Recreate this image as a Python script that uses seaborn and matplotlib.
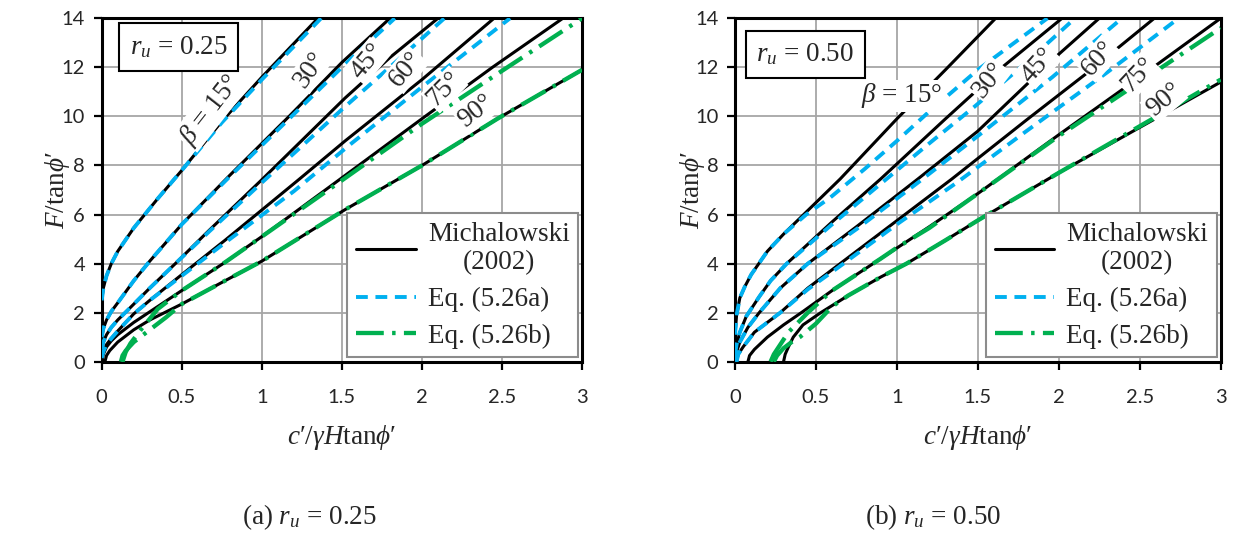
import numpy as np
import pandas as pd
import matplotlib
matplotlib.use("Agg")
import matplotlib.pyplot as plt
from matplotlib.lines import Line2D
import seaborn as sns

# ---------------------------------------------------------------------------
# Stability chart data: F/tan(phi') against c'/(gamma H tan(phi'))
# one curve per slope angle beta (degrees)
# ---------------------------------------------------------------------------
ANGLES = [15, 30, 45, 60, 75, 90]
X_TICKS = [0, 0.5, 1, 1.5, 2, 2.5, 3]
X_TICK_LABELS = ["0", "0.5", "1", "1.5", "2", "2.5", "3"]
Y_TICKS = [0, 2, 4, 6, 8, 10, 12, 14]

# r_u = 0.25 : Michalowski (2002)
mich_025 = {
    15: ([0, 0.01, 0.03, 0.06, 0.1, 0.2, 0.35, 0.5, 0.75, 1.0, 1.35],
         [2.5, 3.0, 3.5, 4.0, 4.5, 5.45, 6.65, 7.8, 9.8, 11.6, 14.0]),
    30: ([0, 0.01, 0.03, 0.06, 0.1, 0.2, 0.3, 0.5, 0.8, 1.17, 1.5, 1.8],
         [1.0, 1.35, 1.7, 2.05, 2.4, 3.3, 4.1, 5.6, 7.6, 10.0, 12.2, 14.0]),
    45: ([0, 0.01, 0.03, 0.06, 0.1, 0.17, 0.3, 0.46, 0.67, 1.0, 1.52, 1.8, 2.1],
         [0.5, 0.8, 1.1, 1.4, 1.7, 2.15, 3.0, 4.0, 5.35, 7.42, 10.75, 12.4, 14.0]),
    60: ([0, 0.01, 0.03, 0.06, 0.1, 0.2, 0.3, 0.5, 0.77, 1.23, 1.52, 2.0, 2.45],
         [0.15, 0.4, 0.7, 0.95, 1.25, 1.95, 2.5, 3.55, 4.95, 7.42, 9.0, 11.5, 14.0]),
    75: ([0, 0.01, 0.03, 0.06, 0.1, 0.2, 0.35, 0.5, 0.77, 1.0, 1.48, 2.02, 2.44, 2.88],
         [0, 0.3, 0.6, 0.85, 1.1, 1.6, 2.25, 2.9, 4.05, 5.1, 7.4, 10.0, 12.0, 14.0]),
    90: ([0.02, 0.03, 0.05, 0.1, 0.2, 0.3, 0.5, 0.77, 1.0, 1.52, 2.0, 2.47, 3.0],
         [0, 0.25, 0.45, 0.8, 1.3, 1.7, 2.35, 3.3, 4.1, 6.2, 8.0, 9.9, 11.9]),
}
# r_u = 0.25 : Eq. (5.26a)
eqa_025 = {
    15: ([0, 0.01, 0.03, 0.06, 0.1, 0.2, 0.35, 0.5, 0.75, 1.0, 1.37],
         [2.5, 3.0, 3.5, 4.0, 4.5, 5.45, 6.65, 7.8, 9.75, 11.5, 14.0]),
    30: ([0, 0.01, 0.03, 0.06, 0.1, 0.2, 0.3, 0.5, 0.8, 1.17, 1.5, 1.83],
         [1.0, 1.35, 1.7, 2.05, 2.4, 3.3, 4.1, 5.6, 7.55, 9.9, 12.0, 14.0]),
    45: ([0, 0.01, 0.03, 0.06, 0.1, 0.17, 0.3, 0.46, 0.67, 1.0, 1.52, 1.85, 2.14],
         [0.5, 0.8, 1.1, 1.4, 1.7, 2.15, 3.0, 4.0, 5.3, 7.3, 10.4, 12.3, 14.0]),
    60: ([0, 0.01, 0.03, 0.06, 0.1, 0.2, 0.3, 0.5, 0.77, 1.2, 1.56, 2.0, 2.55],
         [0.15, 0.4, 0.7, 0.95, 1.25, 1.95, 2.5, 3.5, 4.85, 6.95, 8.9, 11.2, 14.0]),
}
# r_u = 0.25 : Eq. (5.26b)
eqb_025 = {
    75: ([0.13, 0.15, 0.18, 0.25, 0.35, 0.5, 0.77, 1.0, 1.48, 2.0, 2.44, 3.0],
         [0, 0.4, 0.75, 1.35, 2.15, 2.9, 4.05, 5.1, 7.3, 9.7, 11.6, 14.0]),
    90: ([0.12, 0.13, 0.15, 0.2, 0.3, 0.4, 0.5, 0.77, 1.0, 1.52, 2.0, 2.47, 3.0],
         [0, 0.25, 0.45, 0.8, 1.3, 1.8, 2.35, 3.3, 4.1, 6.2, 8.0, 9.9, 11.9]),
}

# r_u = 0.50 : Michalowski (2002)
mich_050 = {
    15: ([0, 0.01, 0.03, 0.06, 0.1, 0.2, 0.3, 0.44, 0.65, 1.0, 1.3, 1.61],
         [1.1, 1.9, 2.6, 3.05, 3.55, 4.5, 5.2, 6.1, 7.45, 9.9, 11.9, 14.0]),
    30: ([0, 0.01, 0.03, 0.07, 0.15, 0.22, 0.32, 0.6, 0.9, 1.3, 1.65, 2.02],
         [0.3, 0.7, 1.2, 1.85, 2.65, 3.3, 4.0, 5.7, 7.45, 9.9, 12.0, 14.0]),
    45: ([0, 0.01, 0.03, 0.08, 0.15, 0.28, 0.45, 0.75, 1.13, 1.5, 1.96, 2.25],
         [0, 0.4, 0.8, 1.4, 2.0, 3.0, 4.0, 5.5, 7.45, 9.4, 12.3, 14.0]),
    60: ([0.01, 0.02, 0.05, 0.12, 0.28, 0.45, 0.65, 1.0, 1.34, 1.8, 2.2, 2.59],
         [0, 0.3, 0.6, 1.2, 2.0, 3.0, 4.0, 5.75, 7.45, 9.85, 11.9, 14.0]),
    75: ([0.08, 0.09, 0.12, 0.2, 0.3, 0.41, 0.6, 0.9, 1.2, 1.51, 2.0, 2.5, 3.0],
         [0, 0.25, 0.5, 1.0, 1.5, 2.0, 2.9, 4.2, 5.5, 6.9, 9.25, 11.6, 14.0]),
    90: ([0.3, 0.31, 0.33, 0.36, 0.42, 0.53, 0.7, 0.9, 1.06, 1.3, 1.51, 2.0, 2.5, 3.0],
         [0, 0.3, 0.6, 1.0, 1.5, 2.0, 2.7, 3.45, 4.0, 4.95, 5.8, 7.7, 9.55, 11.4]),
}
# r_u = 0.50 : Eq. (5.26a)
eqa_050 = {
    15: ([0, 0.01, 0.03, 0.06, 0.1, 0.2, 0.3, 0.44, 0.59, 0.8, 1.0, 1.2, 1.5, 1.93],
         [1.1, 1.9, 2.6, 3.05, 3.55, 4.5, 5.2, 6.0, 6.7, 7.85, 9.0, 10.2, 11.9, 14.0]),
    30: ([0, 0.01, 0.03, 0.07, 0.15, 0.22, 0.32, 0.6, 0.9, 1.2, 1.48, 1.8, 2.1],
         [0.3, 0.7, 1.2, 1.85, 2.65, 3.3, 4.0, 5.6, 7.25, 8.9, 10.4, 12.2, 14.0]),
    45: ([0, 0.01, 0.03, 0.08, 0.15, 0.28, 0.45, 0.75, 1.13, 1.5, 1.96, 2.39],
         [0, 0.4, 0.8, 1.4, 2.0, 3.0, 4.0, 5.4, 7.3, 9.2, 11.6, 14.0]),
    60: ([0.01, 0.02, 0.05, 0.12, 0.28, 0.45, 0.65, 1.0, 1.37, 1.8, 2.3, 2.74],
         [0, 0.3, 0.6, 1.2, 2.0, 2.95, 3.9, 5.6, 7.3, 9.4, 11.8, 14.0]),
}
# r_u = 0.50 : Eq. (5.26b)
eqb_050 = {
    75: ([0.22, 0.24, 0.27, 0.33, 0.45, 0.6, 0.9, 1.0, 1.1, 1.2, 1.51, 2.0, 2.5, 3.0],
         [0, 0.3, 0.6, 1.2, 2.0, 2.9, 4.2, 4.65, 5.05, 5.45, 6.9, 9.2, 11.4, 13.6]),
    90: ([0.24, 0.26, 0.3, 0.35, 0.4, 0.5, 0.6, 0.7, 0.9, 1.06, 1.3, 1.51, 2.0, 2.5, 3.0],
         [0, 0.25, 0.55, 0.8, 1.0, 1.55, 2.25, 2.7, 3.45, 4.0, 4.95, 5.8, 7.7, 9.6, 11.5]),
}

# angle labels: (text, x, y, rotation)
labels_025 = [
    (r"$\beta$ = 15°", 0.68, 10.27, 52),
    ("30°", 1.30, 11.9, 55),
    ("45°", 1.66, 12.25, 50),
    ("60°", 1.90, 11.9, 50),
    ("75°", 2.14, 11.1, 45),
    ("90°", 2.34, 10.2, 38),
]
labels_050 = [
    (r"$\beta$ = 15°", 1.03, 10.84, 0),
    ("30°", 1.567, 11.48, 52),
    ("45°", 1.876, 12.09, 48),
    ("60°", 2.247, 12.36, 48),
    ("75°", 2.49, 11.68, 47),
    ("90°", 2.65, 10.66, 40),
]

# ---------------------------------------------------------------------------
sns.set_theme(style="white")
plt.rcParams["font.family"] = ["Liberation Serif", "DejaVu Serif"]
plt.rcParams["mathtext.fontset"] = "custom"
plt.rcParams["mathtext.rm"] = "Liberation Serif"
plt.rcParams["mathtext.it"] = "Liberation Serif:italic"
plt.rcParams["mathtext.bf"] = "Liberation Serif:bold"
plt.rcParams["lines.scale_dashes"] = False

BLACK = "#000000"
BLUE = "#00B0F0"
GREEN = "#00B050"
STYLE_M = dict(color=BLACK, linewidth=2.2, linestyle="-")
STYLE_A = dict(color=BLUE, linewidth=2.8, linestyle=(0, (8.5, 5.5)))
STYLE_B = dict(color=GREEN, linewidth=3.1, linestyle=(0, (20, 6, 2.5, 6)))

TEXT_FS = 19.5
TICK_FONT = "Lato"


def to_frame(curves):
    rows = []
    for beta, (xs, ys) in curves.items():
        for xv, yv in zip(xs, ys):
            rows.append({"beta": beta, "x": xv, "y": yv})
    return pd.DataFrame(rows)


def draw_panel(ax, mich, eqa, eqb, labels, ru_text, box_xy, ylab_x):
    for curves, style, z in ((mich, STYLE_M, 2), (eqa, STYLE_A, 3), (eqb, STYLE_B, 3)):
        df = to_frame(curves)
        for beta, sub in df.groupby("beta"):
            sns.lineplot(data=sub, x="x", y="y", ax=ax, estimator=None,
                         sort=False, zorder=z, **style)

    ax.set_xlim(0, 3)
    ax.set_ylim(0, 14)
    ax.set_xticks(X_TICKS)
    ax.set_xticklabels(X_TICK_LABELS)
    ax.set_yticks(Y_TICKS)
    ax.grid(True, color="#a6a6a6", linewidth=1.3)
    ax.set_axisbelow(True)
    for sp in ax.spines.values():
        sp.set_visible(True)
        sp.set_color("black")
        sp.set_linewidth(2.2)
    ax.tick_params(axis="x", direction="out", length=6, width=1.6, color="black",
                   labelsize=14.5, pad=14, bottom=True)
    ax.tick_params(axis="y", direction="out", length=6, width=1.6, color="black",
                   labelsize=14.5, pad=6, left=True)
    for t in ax.get_xticklabels() + ax.get_yticklabels():
        t.set_fontfamily(TICK_FONT)

    ax.set_xlabel(r"$c$′/$\gamma H$tan$\phi$′", fontsize=TEXT_FS)
    ax.set_ylabel(r"$F$/tan$\phi$′", fontsize=TEXT_FS)
    ax.xaxis.set_label_coords(0.5, -0.178)
    ax.yaxis.set_label_coords(ylab_x, 0.5)

    for txt, lx, ly, rot in labels:
        ax.text(lx, ly, txt, fontsize=TEXT_FS, rotation=rot,
                rotation_mode="anchor", ha="center", va="center", zorder=5,
                bbox=dict(boxstyle="square,pad=0.05", fc="white", ec="none"))

    ax.text(box_xy[0], box_xy[1], ru_text, transform=ax.transAxes,
            fontsize=TEXT_FS, ha="center", va="center", zorder=6,
            bbox=dict(boxstyle="square,pad=0.4", fc="white", ec="black", lw=1.5))

    handles = [
        Line2D([], [], **STYLE_M),
        Line2D([], [], **STYLE_A),
        Line2D([], [], **STYLE_B),
    ]
    leg = ax.legend(handles, ["Michalowski\n(2002)", "Eq. (5.26a)", "Eq. (5.26b)"],
                    loc="lower right", bbox_to_anchor=(0.992, 0.013),
                    borderaxespad=0, fontsize=TEXT_FS, frameon=True,
                    fancybox=False, framealpha=1, edgecolor="#8c8c8c",
                    handlelength=2.2, handletextpad=0.45, labelspacing=0.42,
                    borderpad=0.32)
    leg.get_frame().set_linewidth(1.5)
    leg.set_zorder(10)
    for t in leg.get_texts():
        t.set_multialignment("center")


fig = plt.figure(figsize=(12.39, 5.33), dpi=100)
ax1 = fig.add_axes([0.0821, 0.3214, 0.3877, 0.6443])
ax2 = fig.add_axes([0.5932, 0.3214, 0.3920, 0.6443])

draw_panel(ax1, mich_025, eqa_025, eqb_025, labels_025, r"$r_u$ = 0.25",
           (0.16, 0.916), -0.062)
draw_panel(ax2, mich_050, eqa_050, eqb_050, labels_050, r"$r_u$ = 0.50",
           (0.145, 0.895), -0.058)

fig.text(0.250, 0.030, r"(a) $r_u$ = 0.25", fontsize=TEXT_FS, ha="center", va="center")
fig.text(0.753, 0.030, r"(b) $r_u$ = 0.50", fontsize=TEXT_FS, ha="center", va="center")

fig.savefig("out.png", dpi=100, facecolor="white")
